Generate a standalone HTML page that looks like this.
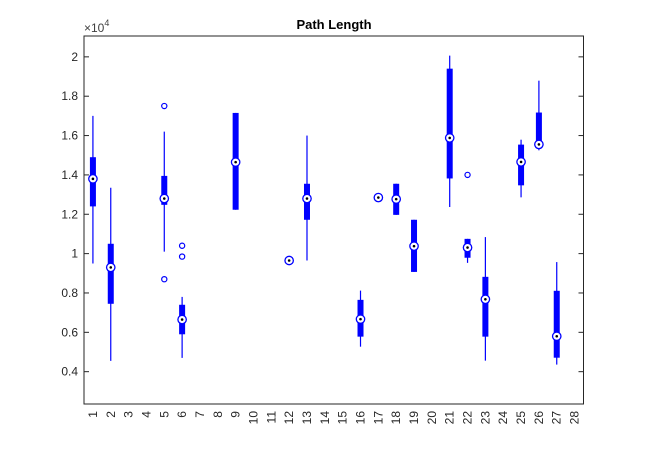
<!DOCTYPE html>
<html><head><meta charset="utf-8"><style>
body{margin:0;background:#fff;}
svg{display:block;font-family:"Liberation Sans",sans-serif;}
</style></head><body>
<svg id="chart" width="645" height="476" viewBox="0 0 645 476">
<rect x="0" y="0" width="645" height="476" fill="#fff"/>
<text x="334" y="29" text-anchor="middle" font-size="13" font-weight="bold" fill="#000">Path Length</text>
<text x="84" y="32" font-size="12" fill="#404040">×10<tspan dy="-6" font-size="9">4</tspan></text>
<g id="plot"></g>
</svg>
<script>
const categories = [1,2,3,4,5,6,7,8,9,10,11,12,13,14,15,16,17,18,19,20,21,22,23,24,25,26,27,28];
const boxIds   = [1,2,5,6,9,12,13,16,17,18,19,21,22,23,25,26,27];
const whiskHi  = [1.70,1.335,1.62,0.78,1.715,0.965,1.60,0.812,1.285,1.355,1.172,2.006,1.075,1.084,1.579,1.879,0.957];
const q3s      = [1.49,1.05,1.395,0.74,1.715,0.965,1.355,0.765,1.285,1.355,1.172,1.94,1.075,0.882,1.554,1.717,0.811];
const medians  = [1.38,0.93,1.28,0.665,1.465,0.965,1.28,0.667,1.285,1.277,1.038,1.588,1.031,0.768,1.466,1.555,0.58];
const q1s      = [1.24,0.745,1.248,0.59,1.223,0.965,1.172,0.578,1.285,1.197,0.907,1.382,0.979,0.578,1.347,1.535,0.471];
const whiskLo  = [0.95,0.455,1.01,0.47,1.223,0.965,0.965,0.527,1.285,1.197,0.907,1.237,0.953,0.456,1.286,1.525,0.436];
const outlierX = [5,5,6,6,22];
const outlierY = [1.75,0.87,0.985,1.04,1.40];
const yTicks = [0.4,0.6,0.8,1,1.2,1.4,1.6,1.8,2];
const yTickLabels = ["0.4","0.6","0.8","1","1.2","1.4","1.6","1.8","2"];

const L=84, R=583.5, T=36, B=404;
const xMin=0.5, xMax=28.5, yMin=0.2357, yMax=2.106;
function xs(v){return L+(v-xMin)/(xMax-xMin)*(R-L);}
function ys(v){return B-(v-yMin)/(yMax-yMin)*(B-T);}
const NS="http://www.w3.org/2000/svg";
const g=document.getElementById('plot');
function mk(tag,attrs,parent){const e=document.createElementNS(NS,tag);for(const k in attrs)e.setAttribute(k,attrs[k]);(parent||g).appendChild(e);return e;}

const frame=mk('rect',{x:L,y:T,width:R-L,height:B-T,fill:'none',stroke:'#262626','stroke-width':1});



yTicks.forEach((v,i)=>{
  const y=ys(v);
  mk('line',{x1:L,x2:L+5,y1:y,y2:y,stroke:'#262626'});
  mk('line',{x1:R,x2:R-5,y1:y,y2:y,stroke:'#262626'});
  const t=mk('text',{x:L-6,y:y+4,'text-anchor':'end','font-size':12,fill:'#262626'});
  t.textContent=yTickLabels[i];
  
  
});
categories.forEach(c=>{
  const x=xs(c);
  const t=mk('text',{transform:`translate(${x+4},${B+7}) rotate(-90)`,'text-anchor':'end','font-size':12,fill:'#262626'});
  t.textContent=String(c);
  
  
});

boxIds.forEach((c,i)=>{
  const x=xs(c);
  const grp=mk('g',{});
  
  
  mk('line',{x1:x,x2:x,y1:ys(whiskHi[i]),y2:ys(whiskLo[i]),stroke:'#0000ff','stroke-width':1.2},grp);
  const h=ys(q1s[i])-ys(q3s[i]);
  if(h>0.5) mk('rect',{x:x-3,y:ys(q3s[i]),width:6,height:h,fill:'#0000ff'},grp);
  const my=ys(medians[i]);
  mk('circle',{cx:x,cy:my,r:4.2,fill:'#fff',stroke:'#0000ff','stroke-width':1.3},grp);
  mk('circle',{cx:x,cy:my,r:1.3,fill:'#000'},grp);
});
outlierX.forEach((c,i)=>{
  const o=mk('circle',{cx:xs(c),cy:ys(outlierY[i]),r:2.6,fill:'none',stroke:'#0000ff','stroke-width':1.2});
  
  
});
</script>
</body></html>
